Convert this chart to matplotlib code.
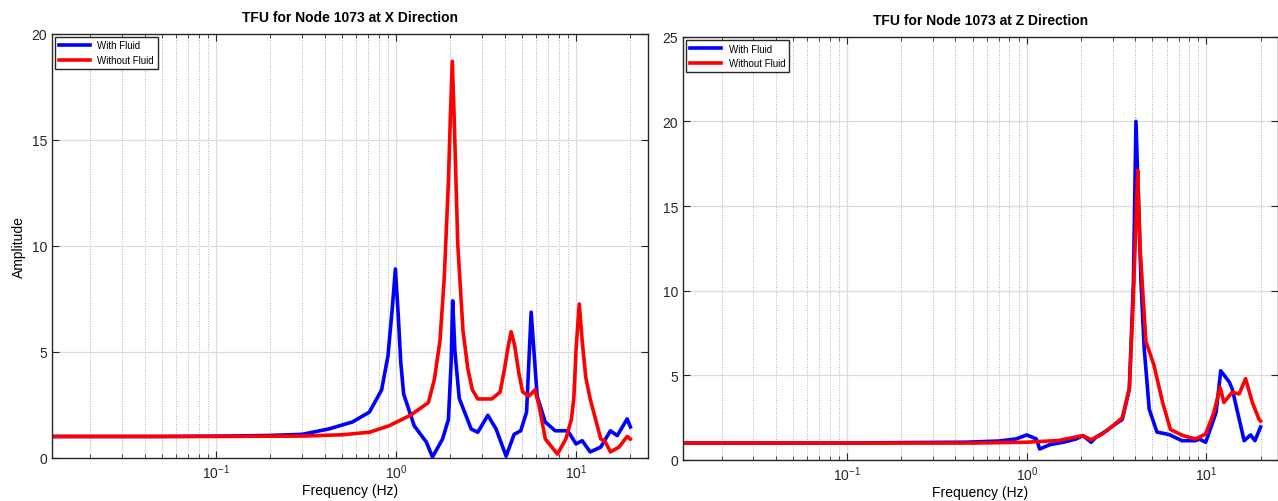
import numpy as np
import matplotlib
matplotlib.use('Agg')
import matplotlib.pyplot as plt
from matplotlib.ticker import LogLocator, NullFormatter, MultipleLocator

plt.rcParams['font.family'] = ['Liberation Sans', 'DejaVu Sans']
plt.rcParams['axes.unicode_minus'] = False

# ---- X direction (left panel) ----
fx_wet = [0.0122, 0.05, 0.116, 0.2, 0.30, 0.42, 0.57, 0.71, 0.83, 0.90, 0.95, 0.99, 1.03, 1.06,
          1.10, 1.26, 1.47, 1.59, 1.81, 1.95, 2.02, 2.06, 2.12, 2.24, 2.61, 2.84, 3.23, 3.59,
          4.08, 4.52, 4.92, 5.30, 5.62, 6.07, 6.73, 7.64, 8.98, 9.97, 10.8, 11.96, 13.7, 15.5,
          16.9, 19.2, 20.0]
ax_wet = [1.0, 1.0, 1.02, 1.05, 1.1, 1.35, 1.68, 2.15, 3.2, 4.8, 7.0, 8.9, 6.5, 4.5,
          3.0, 1.5, 0.74, 0.03, 0.88, 1.8, 4.5, 7.4, 5.0, 2.8, 1.35, 1.2, 2.0, 1.35,
          0.07, 1.1, 1.27, 2.15, 6.86, 2.9, 1.68, 1.27, 1.27, 0.65, 0.8, 0.27, 0.5, 1.27,
          1.04, 1.83, 1.45]
fx_dry = [0.0122, 0.1, 0.3, 0.5, 0.71, 0.91, 1.2, 1.51, 1.63, 1.75, 1.85, 1.95, 2.0, 2.05,
          2.1, 2.2, 2.35, 2.5, 2.65, 2.84, 3.4, 3.78, 4.0, 4.2, 4.35, 4.55, 4.8, 5.04, 5.46,
          5.9, 6.2, 6.74, 7.87, 8.76, 9.4, 9.7, 10.0, 10.4, 10.8, 11.3, 11.96, 13.7, 14.4,
          15.5, 17.3, 19.2, 20.0]
ax_dry = [1.0, 1.0, 1.02, 1.08, 1.2, 1.5, 2.0, 2.6, 3.7, 5.5, 8.5, 13.0, 16.1, 18.7,
          16.0, 10.0, 6.0, 4.2, 3.2, 2.77, 2.77, 3.1, 4.2, 5.3, 5.94, 5.3, 4.0, 3.1, 2.9,
          3.2, 2.5, 0.88, 0.17, 0.88, 1.8, 2.8, 5.2, 7.25, 5.5, 3.8, 2.77, 0.88, 0.8,
          0.27, 0.5, 1.0, 0.88]

# ---- Z direction (right panel) ----
fz_wet = [0.0122, 0.1, 0.217, 0.46, 0.7, 0.87, 1.0, 1.13, 1.18, 1.34, 1.6, 1.88, 2.05, 2.28,
          2.43, 2.8, 3.0, 3.4, 3.72, 3.92, 4.05, 4.32, 4.5, 4.8, 5.3, 6.2, 7.3, 8.7, 9.1,
          9.9, 11.3, 11.7, 12.0, 13.4, 13.9, 16.2, 17.6, 18.6, 20.0]
az_wet = [1.0, 1.0, 1.03, 1.05, 1.12, 1.24, 1.48, 1.24, 0.65, 0.9, 1.05, 1.24, 1.44, 1.05,
          1.35, 1.75, 2.0, 2.4, 4.2, 10.5, 20.0, 10.5, 6.6, 3.0, 1.65, 1.5, 1.14, 1.14, 1.24,
          1.05, 2.8, 4.2, 5.27, 4.6, 4.2, 1.14, 1.48, 1.14, 1.95]
fz_dry = [0.0122, 0.1, 0.5, 1.0, 1.5, 2.05, 2.28, 2.6, 3.0, 3.4, 3.72, 3.88, 4.05, 4.14,
          4.27, 4.6, 5.1, 5.7, 6.3, 7.4, 8.7, 9.9, 11.0, 11.9, 12.5, 13.9, 15.2, 16.5,
          18.0, 19.6, 20.0]
az_dry = [1.0, 1.0, 1.0, 1.05, 1.15, 1.44, 1.2, 1.5, 2.0, 2.5, 4.2, 8.5, 14.0, 17.1,
          12.5, 7.0, 5.6, 3.4, 1.8, 1.44, 1.24, 1.54, 2.8, 4.3, 3.4, 4.0, 3.9, 4.8,
          3.4, 2.4, 2.3]


def style(ax, ymax):
    ax.set_xscale('log')
    ax.set_xlim(0.0122, 25)
    ax.set_ylim(0, ymax)
    ax.yaxis.set_major_locator(MultipleLocator(5))
    ax.xaxis.set_major_locator(LogLocator(base=10, numticks=10))
    ax.xaxis.set_minor_locator(LogLocator(base=10, subs=np.arange(2, 10), numticks=20))
    ax.xaxis.set_minor_formatter(NullFormatter())
    ax.grid(True, which='major', color='#dcdcdc', linewidth=0.9, linestyle='-')
    ax.grid(True, which='minor', axis='x', color='#b0b0b0', linewidth=0.7, linestyle=':')
    ax.set_axisbelow(True)
    ax.tick_params(which='both', direction='in', top=True, right=True, colors='#262626',
                   labelsize=10)
    ax.tick_params(which='major', length=5)
    ax.tick_params(which='minor', length=3)
    for s in ax.spines.values():
        s.set_color('#262626')
        s.set_linewidth(1.0)
    ax.set_xlabel('Frequency (Hz)', fontsize=10, labelpad=1)


fig = plt.figure(figsize=(12.78, 5.02), dpi=100)
ax1 = fig.add_axes([0.0405, 0.0863, 0.4664, 0.8446])
ax2 = fig.add_axes([0.5344, 0.0817, 0.4656, 0.8432])

ax1.plot(fx_wet, ax_wet, color='blue', lw=2.6, label='With Fluid')
ax1.plot(fx_dry, ax_dry, color='red', lw=2.6, label='Without Fluid')
style(ax1, 20)
ax1.set_ylabel('Amplitude', fontsize=10)
ax1.set_title('TFU for Node 1073 at X Direction', fontsize=10, fontweight='bold', pad=9)

ax2.plot(fz_wet, az_wet, color='blue', lw=2.6, label='With Fluid')
ax2.plot(fz_dry, az_dry, color='red', lw=2.6, label='Without Fluid')
style(ax2, 25)
ax2.set_title('TFU for Node 1073 at Z Direction', fontsize=10, fontweight='bold', pad=9)

for ax in (ax1, ax2):
    leg = ax.legend(loc='upper left', fontsize=7, fancybox=False, framealpha=1,
                    borderaxespad=0.3, handlelength=3.2, borderpad=0.4, labelspacing=0.5)
    leg.get_frame().set_edgecolor('#262626')
    leg.get_frame().set_linewidth(1.0)

fig.savefig('out.png', dpi=100)
